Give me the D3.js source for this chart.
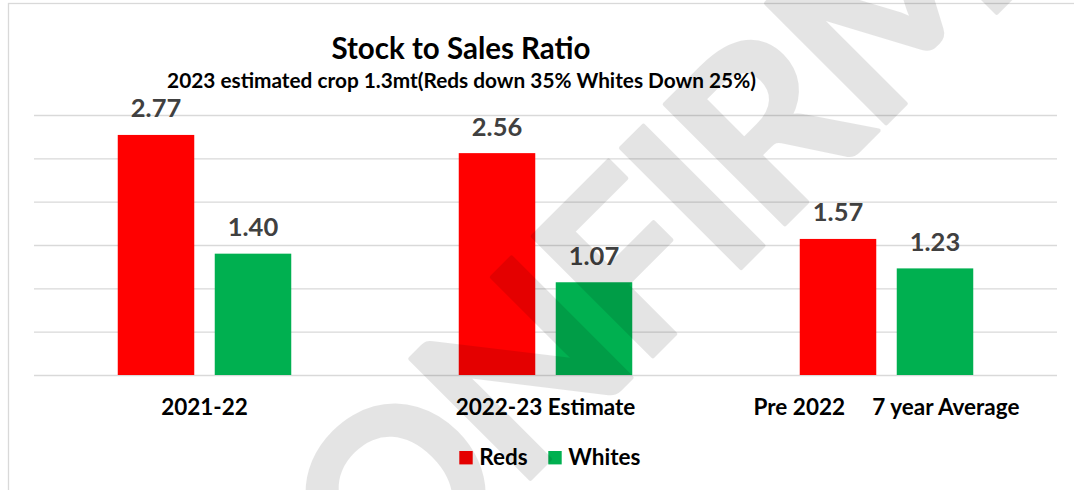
<!DOCTYPE html>
<html>
<head>
<meta charset="utf-8">
<script src="https://cdn.jsdelivr.net/npm/d3@7"></script>
<style>
  html, body { margin: 0; padding: 0; background: #fff; }
  svg { display: block; }
  text { font-family: Lato, "Open Sans", sans-serif; font-weight: 700; }
</style>
</head>
<body>
<svg id="chart" width="1074" height="490"></svg>
<script>
// Stock to sales ratio by period
const categories = ["2021-22", "2022-23 Estimate", "Pre 2022     7 year Average"];
const seriesNames = ["Reds", "Whites"];
const reds = [2.77, 2.56, 1.57];
const whites = [1.40, 1.07, 1.23];
const yTicks = [0, 0.5, 1, 1.5, 2, 2.5, 3];
const seriesColors = ["#FF0000", "#00B050"];

const titleText = "Stock to Sales Ratio";
const subtitleText = "2023 estimated crop 1.3mt(Reds down 35% Whites Down 25%)";
const stampText = "CONFIRMED";

const W = 1074, H = 490;
const plot = { left: 34, right: 1057, top: 115, bottom: 375 };

const svg = d3.select("#chart");

// chart frame
svg.append("rect")
  .attr("x", 8.5).attr("y", 3.5)
  .attr("width", W + 20).attr("height", H + 20)
  .attr("fill", "#fff")
  .attr("stroke", "#d9d9d9")
  .attr("stroke-width", 1.3);

const y = d3.scaleLinear().domain([0, 3]).range([plot.bottom, plot.top]);
const x0 = d3.scaleBand().domain(categories).range([plot.left, plot.right]).padding(0);
const x1 = d3.scaleBand().domain(seriesNames).range([0, x0.bandwidth()])
  .paddingInner(0.2113).paddingOuter(0.8634);

// horizontal gridlines
const grid = svg.append("g")
  .attr("transform", `translate(${plot.left},0)`)
  .call(d3.axisLeft(y).tickValues(yTicks).tickSize(-(plot.right - plot.left)).tickFormat(""));
grid.select(".domain").remove();
grid.selectAll(".tick line").attr("stroke", "#d9d9d9").attr("stroke-width", 1.4);

// rows: one per category with both series
const rows = categories.map((c, i) => ({ category: c, values: [
  { key: seriesNames[0], value: reds[i], color: seriesColors[0] },
  { key: seriesNames[1], value: whites[i], color: seriesColors[1] }
]}));

const groups = svg.append("g").selectAll("g")
  .data(rows).join("g")
  .attr("transform", d => `translate(${x0(d.category)},0)`);

groups.selectAll("rect")
  .data(d => d.values).join("rect")
  .attr("x", d => x1(d.key))
  .attr("y", d => y(d.value))
  .attr("width", x1.bandwidth())
  .attr("height", d => y(0) - y(d.value))
  .attr("fill", d => d.color);

groups.selectAll("text.value")
  .data(d => d.values).join("text")
  .attr("class", "value")
  .attr("x", d => x1(d.key) + x1.bandwidth() / 2)
  .attr("y", d => y(d.value) - 17.5)
  .attr("text-anchor", "middle")
  .attr("fill", "#404040")
  .attr("font-size", 25.5)
  .text(d => d3.format(".2f")(d.value));

// category axis
const xAxis = svg.append("g")
  .attr("transform", `translate(0,${plot.bottom})`)
  .call(d3.axisBottom(x0).tickSize(0));
xAxis.select(".domain").remove();
xAxis.selectAll(".tick text")
  .attr("y", 40).attr("dy", 0)
  .attr("fill", "#000")
  .attr("font-size", 22.5)
  .attr("font-family", "Lato, sans-serif")
  .attr("font-weight", 700)
  .style("white-space", "pre");

// titles
svg.append("text")
  .attr("x", 461).attr("y", 59)
  .attr("text-anchor", "middle")
  .attr("font-size", 29.5)
  .attr("fill", "#000")
  .text(titleText);
svg.append("text")
  .attr("x", 461.5).attr("y", 88)
  .attr("text-anchor", "middle")
  .attr("font-size", 20.8)
  .attr("fill", "#000")
  .text(subtitleText);

// legend
const legendX = [459.3, 548.3];
const legend = svg.append("g").selectAll("g")
  .data(seriesNames).join("g")
  .attr("transform", (d, i) => `translate(${legendX[i]},451)`);
legend.append("rect")
  .attr("width", 13.4).attr("height", 13.4)
  .attr("fill", (d, i) => seriesColors[i]);
legend.append("text")
  .attr("x", 20).attr("y", 13.8)
  .attr("font-size", 22.5)
  .attr("fill", "#000")
  .text(d => d);

// diagonal stamp across the page, centred on its "I"
const stampSize = 235;
const stamp = svg.append("g")
  .attr("transform", "translate(689,199) rotate(-45)")
  .attr("opacity", 0.1)
  .style("pointer-events", "none");
const stampLabel = stamp.append("text")
  .attr("font-family", "'DejaVu Sans', sans-serif")
  .attr("font-weight", 700)
  .attr("font-size", stampSize)
  .attr("letter-spacing", -8)
  .attr("fill", "#000")
  .attr("stroke", "#000")
  .attr("stroke-width", 4)
  .attr("stroke-linejoin", "round")
  .text(stampText);
const node = stampLabel.node();
const offset = node.getSubStringLength(0, 4) + node.getSubStringLength(4, 1) / 2;
stampLabel.attr("x", -offset).attr("y", stampSize * 0.73 / 2);
</script>
</body>
</html>
